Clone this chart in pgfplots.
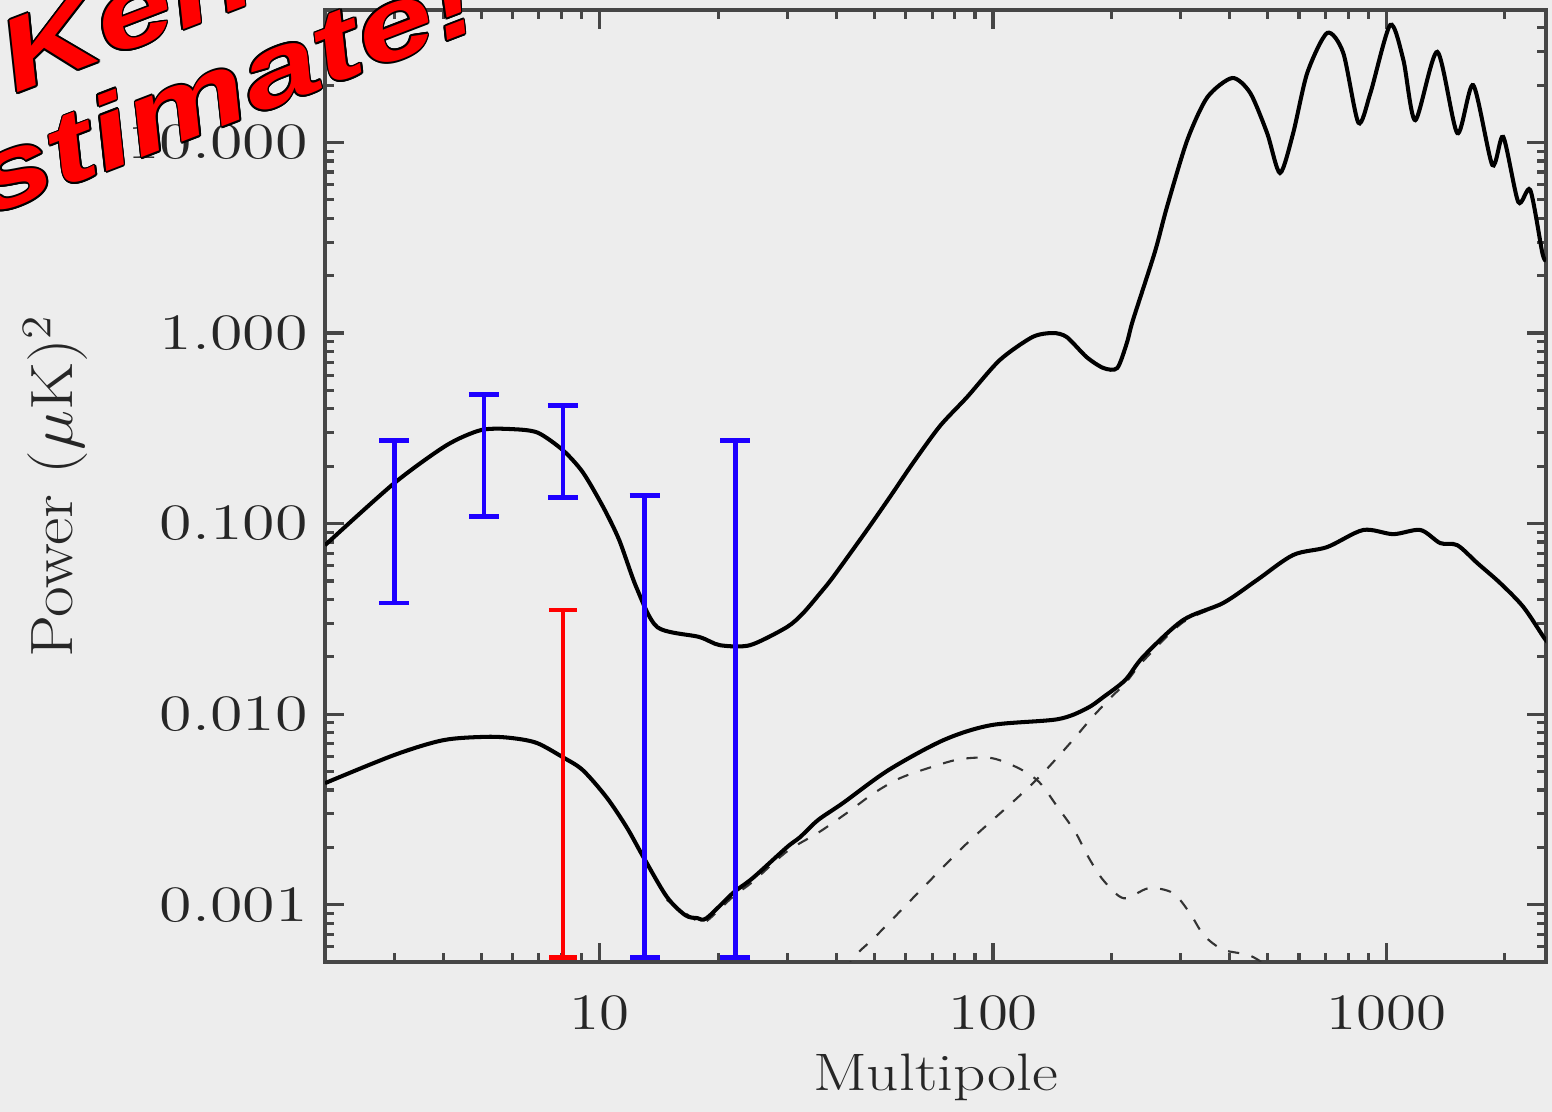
\documentclass[border=0pt]{standalone}
\usepackage{pgfplots}
\pgfplotsset{compat=1.18}
\usepackage{graphicx}
\usepackage{fontspec}
\newfontfamily\artfont{Liberation Sans}
\definecolor{bg}{RGB}{237,237,237}
\definecolor{axc}{RGB}{70,70,70}
\definecolor{ebblue}{RGB}{30,0,255}
\definecolor{ebred}{RGB}{255,0,0}
\newcommand{\art}[1]{\artfont\bfseries\itshape\fontsize{29}{29}\selectfont\scalebox{1.36}[1]{#1}}
\begin{document}
\begin{tikzpicture}
\fill[bg] (0,0) rectangle (15.52cm,11.12cm);
\useasboundingbox (0,0) rectangle (15.52cm,11.12cm);
\begin{axis}[
  at={(3.25cm,1.50cm)}, anchor=south west,
  width=12.21cm, height=9.52cm, scale only axis,
  xmode=log, ymode=log,
  xmin=2, xmax=2550, ymin=0.0005, ymax=49.6,
  axis line style={axc, line width=1.1pt},
  every tick/.style={axc, line width=0.9pt},
  major tick length=0.19cm, minor tick length=0.09cm,
  tick align=inside,
  xtick={10,100,1000},
  minor xtick={2,3,4,5,6,7,8,9,20,30,40,50,60,70,80,90,200,300,400,500,600,700,800,900,2000},
  xticklabels={\scalebox{1.2}[1]{10},\scalebox{1.2}[1]{100},\scalebox{1.2}[1]{1000}},
  ytick={0.001,0.01,0.1,1,10},
  minor ytick={0.0006,0.0007,0.0008,0.0009,0.002,0.003,0.004,0.005,0.006,0.007,0.008,0.009,0.02,0.03,0.04,0.05,0.06,0.07,0.08,0.09,0.2,0.3,0.4,0.5,0.6,0.7,0.8,0.9,2,3,4,5,6,7,8,9,20,30,40},
  yticklabels={\scalebox{1.3}[1]{0.001},\scalebox{1.3}[1]{0.010},\scalebox{1.3}[1]{0.100},\scalebox{1.3}[1]{1.000},\scalebox{1.3}[1]{10.000}},
  ticklabel style={font=\fontsize{14.5}{17}\selectfont, text=black!85},
  xticklabel style={yshift=-0.21cm},
  yticklabel style={xshift=-0.05cm},
  xlabel={\scalebox{1.2}[1]{Multipole}},
  ylabel={\scalebox{1.12}[1]{Power ($\mu$K)$^2$}},
  xlabel style={font=\fontsize{15}{17}\selectfont, text=black!85, at={(axis description cs:0.5,-0.121)}, anchor=center},
  ylabel style={font=\fontsize{17}{19}\selectfont, text=black!85, at={(axis description cs:-0.221,0.5)}, anchor=center},
  axis background/.style={fill=bg},
]
% upper solid curve
\addplot[black, line width=1.15pt, smooth, tension=0.45] coordinates {
(2,0.077) (3,0.163) (4.08,0.258) (5.0,0.31) (6.0,0.313) (6.95,0.30) (8.05,0.243)
(9.05,0.186) (10.2,0.122) (11.2,0.082) (12.4,0.046) (14.0,0.0286) (17.9,0.0254)
(20.2,0.023) (24.1,0.023) (29.9,0.0286) (32.9,0.0339) (36.3,0.043) (39.2,0.0524)
(47.8,0.0925) (54.7,0.138) (62.6,0.208) (73.3,0.325) (85.9,0.461) (104,0.721)
(126,0.953) (142,1.0) (154,0.953) (173,0.748) (191,0.655) (207,0.655) (219,0.887)
(227,1.17) (258,2.66) (277,4.59) (312,10.3) (351,17.3) (406,21.8) (451,18.2)
(498,11.2) (537,6.92) (580,11.2) (630,23.2) (708,37.6) (778,29.5) (850,12.7)
(912,18.2) (1024,41.4) (1106,27.1) (1186,13.1) (1349,29.9) (1517,11.2) (1665,20.0)
(1862,7.62) (1985,10.7) (2168,4.87) (2325,5.63) (2496,2.63) (2550,2.4)
};
% dashed component 1
\addplot[black!80, line width=0.6pt, dash pattern=on 3.2pt off 3.6pt, smooth, tension=0.5] coordinates {
(14.8,0.00106) (17.7,0.00082) (18.7,0.00082) (21.8,0.0011) (24.5,0.00132) (29.9,0.0019)
(36.1,0.0024) (42.8,0.00306) (49.8,0.00385) (58,0.00461) (69.7,0.00527) (82.4,0.0058)
(99,0.00588) (116,0.00521) (131,0.0044) (146,0.00325) (162,0.0024) (175,0.00177)
(191,0.00134) (215,0.00108) (249,0.00122) (287,0.00115) (317,0.0009) (344,0.00069)
(385,0.00058) (451,0.00054) (520,0.00045)
};
% dashed component 2
\addplot[black!80, line width=0.6pt, dash pattern=on 3.2pt off 3.6pt, smooth, tension=0.5] coordinates {
(42,0.00045) (45,0.00055) (50.6,0.00069) (66.7,0.00124) (85.9,0.0021) (113.7,0.00354)
(131,0.00467) (146,0.00594) (162,0.00757) (179,0.00964) (200,0.0123) (217,0.0145)
(241,0.0190) (304,0.0303) (385,0.0380) (469,0.0505)
};
% lower solid curve
\addplot[black, line width=1.15pt, smooth, tension=0.5] coordinates {
(2,0.00434) (3,0.0061) (4.0,0.0073) (5.15,0.0076) (6.0,0.00748) (6.92,0.00705)
(8.05,0.00594) (9.05,0.00508) (10.4,0.00366) (11.7,0.00255) (12.9,0.00178)
(14.8,0.0011) (16.5,0.00088) (17.7,0.00085) (18.7,0.00085) (21.8,0.00115)
(24.5,0.00138) (29.9,0.002) (32.3,0.00226) (35.9,0.00278) (41.5,0.00341)
(54.2,0.00508) (74.8,0.0073) (98.9,0.00875) (146,0.0094) (173,0.0107) (191,0.0123)
(217,0.0151) (241,0.02) (304,0.0311) (385,0.0383) (469,0.0505) (580,0.0684)
(708,0.0753) (874,0.0925) (1042,0.088) (1222,0.0925) (1372,0.079) (1517,0.077)
(1706,0.062) (1950,0.0487) (2233,0.0365) (2513,0.0254) (2550,0.0245)
};
% blue error bars
\addplot[ebblue, only marks, mark size=0pt,
  error bars/.cd, y dir=both, y explicit, error mark=|,
  error bar style={ebblue, line width=1.3pt},
  error mark options={ebblue, line width=1.4pt, mark size=0.15cm}]
coordinates {
(3,0.1) += (0,0.174) -= (0,0.0617)
(5.07,0.2) += (0,0.277) -= (0,0.0914)
(8.05,0.2) += (0,0.217) -= (0,0.0633)
(13.0,0.01) += (0,0.131) -= (0,0.00947)
(22.1,0.01) += (0,0.264) -= (0,0.00947)
};
% red error bar
\addplot[ebred, only marks, mark size=0pt,
  error bars/.cd, y dir=both, y explicit, error mark=|,
  error bar style={ebred, line width=1.3pt},
  error mark options={ebred, line width=1.4pt, mark size=0.14cm}]
coordinates {
(8.05,0.01) += (0,0.0252) -= (0,0.00947)
};
\end{axis}
% overlay text
\foreach \a in {0,30,...,330} {
  \node[rotate=21, anchor=base west, inner sep=0, text=black] at ([shift={(\a:0.018cm)}]0.15cm,10.18cm) {\art{Ken's}};
  \node[rotate=21, anchor=base west, inner sep=0, text=black] at ([shift={(\a:0.018cm)}]-0.98cm,8.62cm) {\art{Estimate!}};
}
\node[rotate=21, anchor=base west, inner sep=0, text=ebred] at (0.15cm,10.18cm) {\art{Ken's}};
\node[rotate=21, anchor=base west, inner sep=0, text=ebred] at (-0.98cm,8.62cm) {\art{Estimate!}};
\end{tikzpicture}
\end{document}
